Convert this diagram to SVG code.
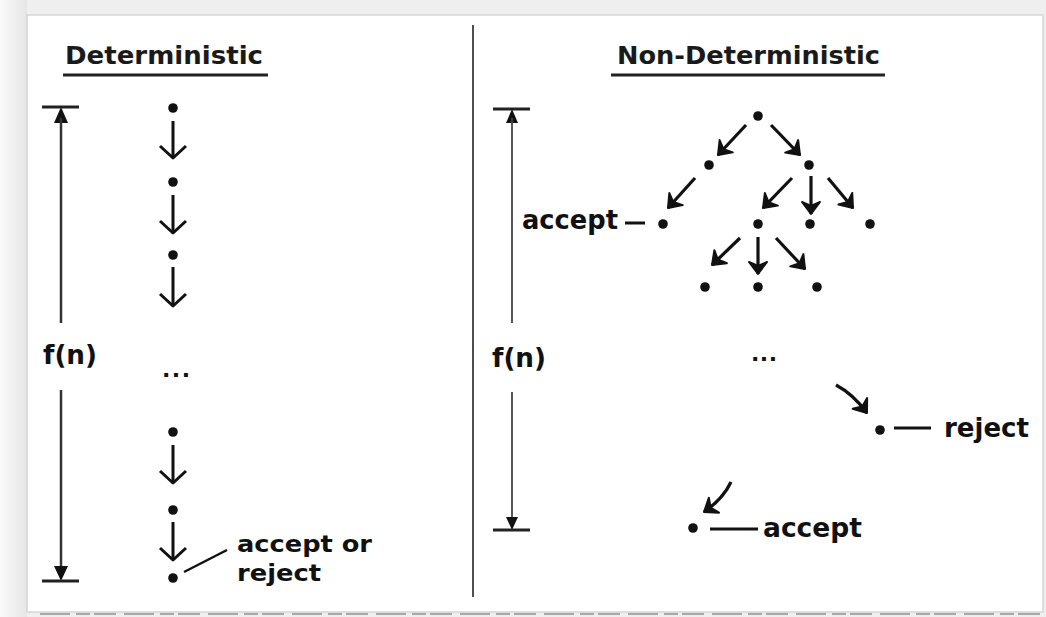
<svg xmlns="http://www.w3.org/2000/svg" width="1046" height="617" viewBox="0 0 1046 617">
<defs>
<style>
.lbl{font-family:"DejaVu Sans","Liberation Sans",sans-serif;font-weight:bold;font-size:26px;fill:#111}
.lbl2{font-family:"DejaVu Sans","Liberation Sans",sans-serif;font-weight:bold;font-size:23px;fill:#111}
.ttl{font-family:"DejaVu Sans","Liberation Sans",sans-serif;font-weight:bold;font-size:25px;fill:#1a1a1a}
.dots{font-family:"DejaVu Sans","Liberation Sans",sans-serif;font-weight:bold;font-size:22px;fill:#111}
.ar{fill:none;stroke:#111;stroke-width:3;stroke-linecap:butt}
.tr{fill:none;stroke:#111;stroke-width:3.2}
.bar{fill:none;stroke:#333;stroke-width:2.5}
.bar2{fill:none;stroke:#444;stroke-width:1.8}
.tick{stroke:#222;stroke-width:3}
.dash{stroke:#111;stroke-width:3}
.dot{fill:#111}
</style>
<linearGradient id="side" x1="0" x2="1" y1="0" y2="0">
<stop offset="0" stop-color="#fafafa"/>
<stop offset="1" stop-color="#e6e6e6"/>
</linearGradient>
<marker id="v" viewBox="-16 -16 20 32" refX="0" refY="0" markerWidth="20" markerHeight="32" markerUnits="userSpaceOnUse" orient="auto">
<path d="M-12,-13 L0,0 L-12,13" fill="none" stroke="#111" stroke-width="3" stroke-linejoin="round"/>
</marker>
<marker id="t" viewBox="-16 -16 20 32" refX="0" refY="0" markerWidth="20" markerHeight="32" markerUnits="userSpaceOnUse" orient="auto">
<path d="M-12,-9 L0,0 L-12,9 L-8,0 Z" fill="#111" stroke="#111" stroke-width="2" stroke-linejoin="round"/>
</marker>
</defs>

<!-- page frame -->
<rect x="0" y="0" width="1046" height="617" fill="#efefef"/>
<rect x="0" y="0" width="27" height="617" fill="url(#side)"/>
<rect x="27" y="15" width="1016" height="597" fill="#ffffff" stroke="#d6d6d6" stroke-width="1.5"/>
<line x1="40" y1="614" x2="1040" y2="614" stroke="#a8a8a8" stroke-width="2" stroke-dasharray="30 6 14 4 22 8"/>

<!-- divider -->
<line x1="473" y1="25" x2="473" y2="597" stroke="#222" stroke-width="1.6"/>

<!-- titles -->
<g id="title-det">
<text class="ttl" x="65" y="64" textLength="198" lengthAdjust="spacingAndGlyphs">Deterministic</text>
<line x1="63" y1="75" x2="268" y2="75" stroke="#222" stroke-width="3"/>
</g>
<g id="title-nondet">
<text class="ttl" x="617" y="64" textLength="263" lengthAdjust="spacingAndGlyphs">Non-Deterministic</text>
<line x1="611" y1="75" x2="885" y2="75" stroke="#222" stroke-width="3"/>
</g>

<!-- f(n) measure bars -->
<g id="fn-left">
<line class="tick" x1="42" y1="107" x2="79" y2="107"/>
<polygon points="61,107 54,123 68,123" fill="#111"/>
<line class="bar" x1="61" y1="118" x2="61" y2="323"/>
<text class="lbl" x="43" y="364" textLength="54" lengthAdjust="spacingAndGlyphs">f(n)</text>
<line class="bar" x1="61" y1="390" x2="61" y2="570"/>
<polygon points="61,581 54,566 68,566" fill="#111"/>
<line class="tick" x1="42" y1="581" x2="79" y2="581"/>
</g>
<g id="fn-right">
<line class="tick" x1="493" y1="109" x2="530" y2="109"/>
<polygon points="512,109 506,123 518,123" fill="#111"/>
<line class="bar2" x1="512" y1="118" x2="512" y2="323"/>
<text class="lbl" x="492" y="367" textLength="54" lengthAdjust="spacingAndGlyphs">f(n)</text>
<line class="bar2" x1="512" y1="392" x2="512" y2="520"/>
<polygon points="512,530 506,517 518,517" fill="#111"/>
<line class="tick" x1="493" y1="530" x2="530" y2="530"/>
</g>

<!-- deterministic chain nodes -->
<g id="d1"><circle class="dot" cx="173" cy="108" r="4.8"/></g>
<g id="d2"><circle class="dot" cx="173" cy="182" r="4.8"/></g>
<g id="d3"><circle class="dot" cx="173" cy="255" r="4.8"/></g>
<g id="d-ellipsis"><text class="dots" x="162" y="377" textLength="28" lengthAdjust="spacing">...</text></g>
<g id="d4"><circle class="dot" cx="173" cy="432" r="4.8"/></g>
<g id="d5"><circle class="dot" cx="173" cy="510" r="4.8"/></g>
<g id="d6"><circle class="dot" cx="173" cy="578" r="4.8"/></g>
<g id="d-label">
<text class="lbl2" x="237" y="552" textLength="135" lengthAdjust="spacingAndGlyphs">accept or</text>
<text class="lbl2" x="237" y="581" textLength="84" lengthAdjust="spacingAndGlyphs">reject</text>
</g>

<!-- nondeterministic tree nodes -->
<g id="n-root"><circle class="dot" cx="758" cy="116" r="4.8"/></g>
<g id="n-l1a"><circle class="dot" cx="709" cy="165" r="4.8"/></g>
<g id="n-l1b"><circle class="dot" cx="809" cy="165" r="4.8"/></g>
<g id="n-acc1">
<circle class="dot" cx="663" cy="224" r="4.8"/>
<text class="lbl" x="522" y="229" textLength="96" lengthAdjust="spacingAndGlyphs">accept</text>
</g>
<g id="n-l2b"><circle class="dot" cx="758" cy="224" r="4.8"/></g>
<g id="n-l2c"><circle class="dot" cx="810" cy="224" r="4.8"/></g>
<g id="n-l2d"><circle class="dot" cx="870" cy="224" r="4.8"/></g>
<g id="n-l3a"><circle class="dot" cx="705" cy="287" r="4.8"/></g>
<g id="n-l3b"><circle class="dot" cx="758" cy="287" r="4.8"/></g>
<g id="n-l3c"><circle class="dot" cx="817" cy="287" r="4.8"/></g>
<g id="n-ellipsis"><text class="dots" x="751" y="361" textLength="26" lengthAdjust="spacing">...</text></g>
<g id="n-reject">
<circle class="dot" cx="880" cy="430" r="4.8"/>
<text class="lbl" x="944" y="437" textLength="85" lengthAdjust="spacingAndGlyphs">reject</text>
</g>
<g id="n-accept">
<circle class="dot" cx="693" cy="528" r="4.8"/>
<text class="lbl" x="763" y="537" textLength="99" lengthAdjust="spacingAndGlyphs">accept</text>
</g>

<!-- connectors -->
<g id="connectors">
<line class="ar" x1="173" y1="121" x2="173" y2="158" marker-end="url(#v)"/>
<line class="ar" x1="173" y1="195" x2="173" y2="233" marker-end="url(#v)"/>
<line class="ar" x1="173" y1="267" x2="173" y2="306" marker-end="url(#v)"/>
<line class="ar" x1="173" y1="445" x2="173" y2="483" marker-end="url(#v)"/>
<line class="ar" x1="173" y1="522" x2="173" y2="560" marker-end="url(#v)"/>
<line x1="184" y1="572" x2="227" y2="550" stroke="#111" stroke-width="2.5"/>

<line class="tr" x1="746" y1="125" x2="718" y2="155" marker-end="url(#t)"/>
<line class="tr" x1="771" y1="125" x2="800" y2="155" marker-end="url(#t)"/>
<line class="tr" x1="695" y1="178" x2="668" y2="208" marker-end="url(#t)"/>
<line class="tr" x1="792" y1="178" x2="763" y2="208" marker-end="url(#t)"/>
<line class="tr" x1="811" y1="176" x2="811" y2="214" marker-end="url(#t)"/>
<line class="tr" x1="828" y1="178" x2="853" y2="208" marker-end="url(#t)"/>
<line class="tr" x1="740" y1="238" x2="712" y2="265" marker-end="url(#t)"/>
<line class="tr" x1="758" y1="237" x2="758" y2="274" marker-end="url(#t)"/>
<line class="tr" x1="776" y1="238" x2="805" y2="269" marker-end="url(#t)"/>
<line class="dash" x1="625" y1="223" x2="645" y2="223"/>

<path class="tr" d="M836,385 Q853,394 867,413" marker-end="url(#t)"/>
<line class="dash" x1="894" y1="428" x2="931" y2="428"/>
<path class="tr" d="M731,482 Q723,499 704,512" marker-end="url(#t)"/>
<line class="dash" x1="710" y1="529" x2="758" y2="529"/>
</g>
</svg>
